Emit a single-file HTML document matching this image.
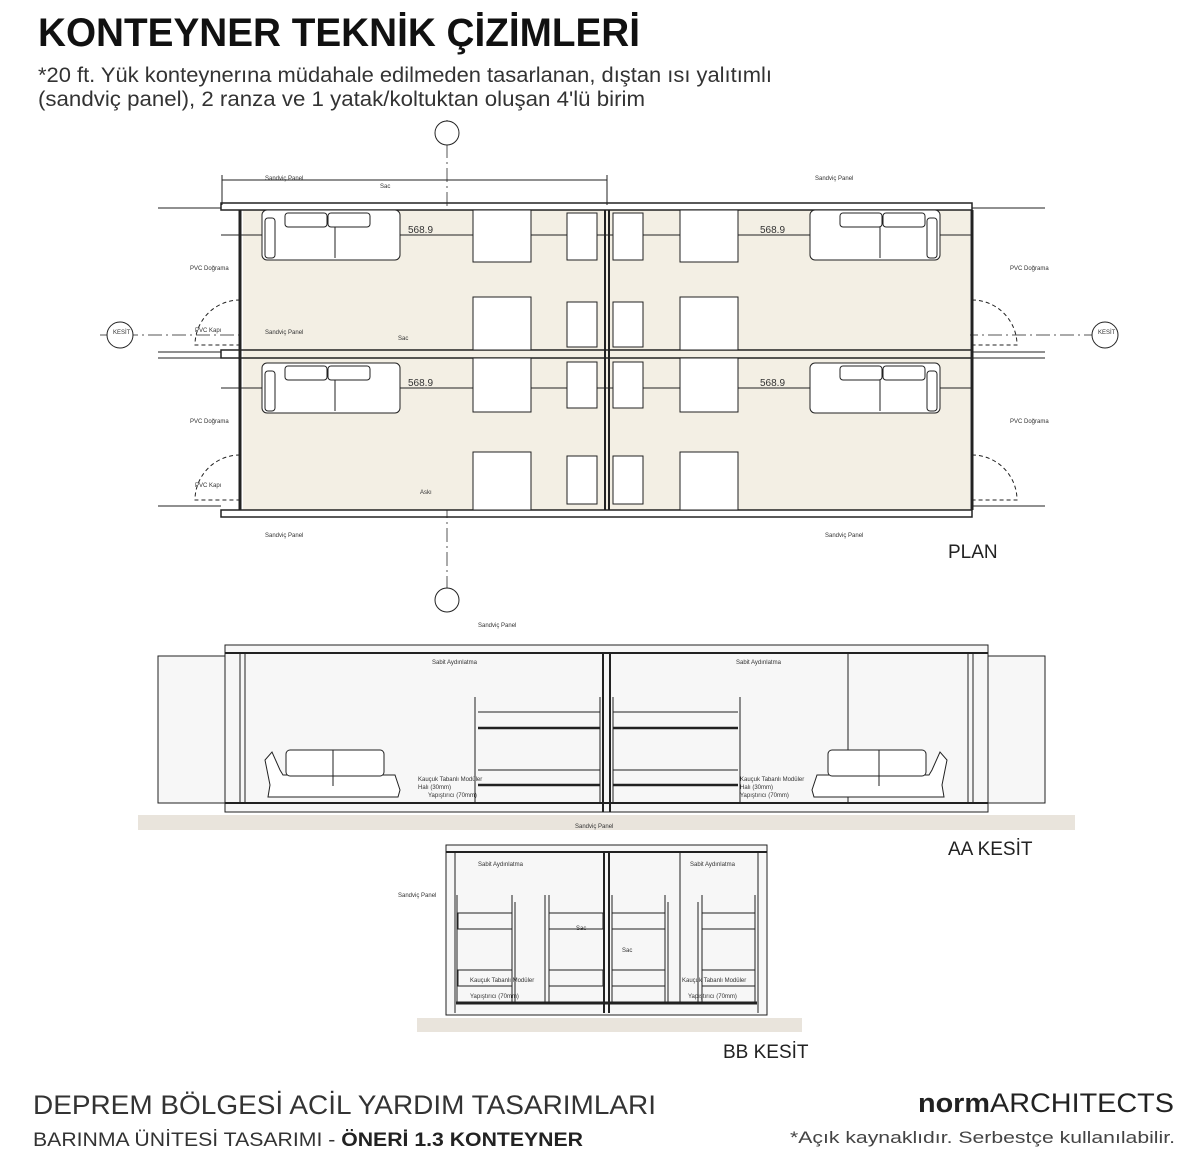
<!DOCTYPE html>
<html><head><meta charset="utf-8"><style>
html,body{margin:0;padding:0;background:#fff}
svg{display:block}
text{font-family:"Liberation Sans",sans-serif}
</style></head><body>
<svg width="1200" height="1158" viewBox="0 0 1200 1158" xmlns="http://www.w3.org/2000/svg">
<rect width="1200" height="1158" fill="#fff"/>
<!-- Header -->
<text x="38" y="46" font-size="40" font-weight="bold" textLength="602" lengthAdjust="spacingAndGlyphs" fill="#111">KONTEYNER TEKNİK ÇİZİMLERİ</text>
<text x="38" y="82" font-size="21" textLength="734" lengthAdjust="spacingAndGlyphs" fill="#333">*20 ft. Yük konteynerına müdahale edilmeden tasarlanan, dıştan ısı yalıtımlı</text>
<text x="38" y="106" font-size="21" textLength="607" lengthAdjust="spacingAndGlyphs" fill="#333">(sandviç panel), 2 ranza ve 1 yatak/koltuktan oluşan 4'lü birim</text>

<!-- PLAN -->
<g stroke="#222" fill="none" stroke-width="1">
  <line x1="100" y1="335" x2="1100" y2="335" stroke-dasharray="14 4 2 4" stroke="#555"/>
  <line x1="447" y1="120" x2="447" y2="590" stroke-dasharray="14 4 2 4" stroke="#555"/>
  <line x1="222" y1="180" x2="607" y2="180"/>
  <line x1="222" y1="175" x2="222" y2="205"/>
  <line x1="607" y1="175" x2="607" y2="205"/>
  <rect x="243" y="210" width="727" height="300" fill="#f3efe4" stroke="none"/>
  <rect x="221" y="203" width="751" height="7" stroke-width="1.5"/>
  <rect x="221" y="510" width="751" height="7" stroke-width="1.5"/>
  <rect x="221" y="350" width="751" height="8" stroke-width="1.5"/>
  <line x1="240" y1="210" x2="240" y2="510" stroke-width="3"/>
  <line x1="972" y1="210" x2="972" y2="510" stroke-width="3"/>
  <line x1="605" y1="210" x2="605" y2="510" stroke-width="2"/>
  <line x1="609" y1="210" x2="609" y2="510" stroke-width="2"/>
  <line x1="158" y1="208" x2="221" y2="208"/><line x1="158" y1="352" x2="221" y2="352"/>
  <line x1="158" y1="358" x2="221" y2="358"/><line x1="158" y1="506" x2="221" y2="506"/>
  <line x1="1045" y1="208" x2="972" y2="208"/><line x1="1045" y1="352" x2="972" y2="352"/>
  <line x1="1045" y1="358" x2="972" y2="358"/><line x1="1045" y1="506" x2="972" y2="506"/>
  <path d="M240 300 A45 45 0 0 0 195 345 L240 345" stroke-dasharray="4 3"/>
  <path d="M240 455 A45 45 0 0 0 195 500 L240 500" stroke-dasharray="4 3"/>
  <path d="M972 300 A45 45 0 0 1 1017 345 L972 345" stroke-dasharray="4 3"/>
  <path d="M972 455 A45 45 0 0 1 1017 500 L972 500" stroke-dasharray="4 3"/>
  <line x1="221" y1="235" x2="972" y2="235"/>
  <line x1="221" y1="388" x2="972" y2="388"/>
  <g fill="#fff">
    <rect x="262" y="210" width="138" height="50" rx="5"/>
    <rect x="262" y="363" width="138" height="50" rx="5"/>
    <rect x="810" y="210" width="130" height="50" rx="5"/>
    <rect x="810" y="363" width="130" height="50" rx="5"/>
    <rect x="285" y="213" width="42" height="14" rx="3"/><rect x="328" y="213" width="42" height="14" rx="3"/>
    <rect x="285" y="366" width="42" height="14" rx="3"/><rect x="328" y="366" width="42" height="14" rx="3"/>
    <rect x="840" y="213" width="42" height="14" rx="3"/><rect x="883" y="213" width="42" height="14" rx="3"/>
    <rect x="840" y="366" width="42" height="14" rx="3"/><rect x="883" y="366" width="42" height="14" rx="3"/>
    <rect x="265" y="218" width="10" height="40" rx="3"/><rect x="265" y="371" width="10" height="40" rx="3"/>
    <rect x="927" y="218" width="10" height="40" rx="3"/><rect x="927" y="371" width="10" height="40" rx="3"/>
    <rect x="473" y="210" width="58" height="52"/><rect x="567" y="213" width="30" height="47"/>
    <rect x="473" y="297" width="58" height="53"/><rect x="567" y="302" width="30" height="45"/>
    <rect x="473" y="358" width="58" height="54"/><rect x="567" y="362" width="30" height="46"/>
    <rect x="473" y="452" width="58" height="58"/><rect x="567" y="456" width="30" height="48"/>
    <rect x="680" y="210" width="58" height="52"/><rect x="613" y="213" width="30" height="47"/>
    <rect x="680" y="297" width="58" height="53"/><rect x="613" y="302" width="30" height="45"/>
    <rect x="680" y="358" width="58" height="54"/><rect x="613" y="362" width="30" height="46"/>
    <rect x="680" y="452" width="58" height="58"/><rect x="613" y="456" width="30" height="48"/>
  </g>
  <line x1="335" y1="227" x2="335" y2="258"/><line x1="335" y1="380" x2="335" y2="411"/>
  <line x1="880" y1="227" x2="880" y2="258"/><line x1="880" y1="380" x2="880" y2="411"/>
  <circle cx="120" cy="335" r="13" fill="#fff"/><circle cx="1105" cy="335" r="13" fill="#fff"/>
  <circle cx="447" cy="133" r="12" fill="#fff"/><circle cx="447" cy="600" r="12" fill="#fff"/>
</g>
<g font-size="6" fill="#333">
  <text x="265" y="180">Sandviç Panel</text><text x="380" y="188">Sac</text>
  <text x="190" y="270">PVC Doğrama</text><text x="195" y="332">PVC Kapı</text>
  <text x="265" y="334">Sandviç Panel</text><text x="398" y="340">Sac</text>
  <text x="190" y="423">PVC Doğrama</text><text x="195" y="487">PVC Kapı</text>
  <text x="420" y="494">Askı</text><text x="265" y="537">Sandviç Panel</text>
  <text x="815" y="180">Sandviç Panel</text><text x="1010" y="270">PVC Doğrama</text>
  <text x="1010" y="423">PVC Doğrama</text><text x="825" y="537">Sandviç Panel</text>
  <text x="113" y="334">KESİT</text><text x="1098" y="334">KESİT</text>
</g>
<g font-size="10" fill="#333">
  <text x="408" y="233">568.9</text><text x="408" y="386">568.9</text>
  <text x="760" y="233">568.9</text><text x="760" y="386">568.9</text>
</g>
<text x="948" y="558" font-size="19" fill="#222">PLAN</text>

<!-- AA KESIT -->
<rect x="138" y="815" width="937" height="15" fill="#e9e4dc"/>
<g stroke="#222" fill="none" stroke-width="1">
  <rect x="225" y="645" width="763" height="167" fill="#f7f7f7"/>
  <rect x="158" y="656" width="67" height="147" fill="#f7f7f7"/>
  <rect x="988" y="656" width="57" height="147" fill="#f7f7f7"/>
  <line x1="225" y1="653" x2="988" y2="653" stroke-width="2"/>
  <line x1="225" y1="803" x2="988" y2="803" stroke-width="2"/>
  <line x1="240" y1="653" x2="240" y2="803"/><line x1="245" y1="653" x2="245" y2="803"/>
  <line x1="968" y1="653" x2="968" y2="803"/><line x1="973" y1="653" x2="973" y2="803"/>
  <line x1="603" y1="653" x2="603" y2="812" stroke-width="2"/><line x1="610" y1="653" x2="610" y2="812" stroke-width="2"/>
  <line x1="848" y1="653" x2="848" y2="803"/>
  <line x1="475" y1="697" x2="475" y2="803"/><line x1="600" y1="697" x2="600" y2="803"/>
  <line x1="478" y1="728" x2="600" y2="728" stroke-width="2.5"/><line x1="478" y1="785" x2="600" y2="785" stroke-width="2.5"/>
  <line x1="478" y1="712" x2="600" y2="712"/><line x1="478" y1="770" x2="600" y2="770"/>
  <line x1="613" y1="697" x2="613" y2="803"/><line x1="740" y1="697" x2="740" y2="803"/>
  <line x1="613" y1="728" x2="738" y2="728" stroke-width="2.5"/><line x1="613" y1="785" x2="738" y2="785" stroke-width="2.5"/>
  <line x1="613" y1="712" x2="738" y2="712"/><line x1="613" y1="770" x2="738" y2="770"/>
  <path d="M270 785 L265 760 L272 752 L280 770 L283 775 L395 775 L400 790 L398 797 L268 797 Z" fill="#fff"/>
  <rect x="286" y="750" width="98" height="26" rx="4" fill="#fff"/><line x1="333" y1="750" x2="333" y2="786"/>
  <path d="M942 785 L947 760 L940 752 L932 770 L929 775 L817 775 L812 790 L814 797 L944 797 Z" fill="#fff"/>
  <rect x="828" y="750" width="98" height="26" rx="4" fill="#fff"/><line x1="879" y1="750" x2="879" y2="786"/>
</g>
<g font-size="6" fill="#333">
  <text x="478" y="627">Sandviç Panel</text><text x="432" y="664">Sabit Aydınlatma</text>
  <text x="736" y="664">Sabit Aydınlatma</text>
  <text x="418" y="781">Kauçuk Tabanlı Modüler</text><text x="418" y="789">Halı (30mm)</text><text x="428" y="797">Yapıştırıcı (70mm)</text>
  <text x="740" y="781">Kauçuk Tabanlı Modüler</text><text x="740" y="789">Halı (30mm)</text><text x="740" y="797">Yapıştırıcı (70mm)</text>
  <text x="575" y="828">Sandviç Panel</text>
</g>
<text x="948" y="855" font-size="19" fill="#222">AA KESİT</text>

<!-- BB KESIT -->
<rect x="417" y="1018" width="385" height="14" fill="#e9e4dc"/>
<g stroke="#222" fill="none" stroke-width="1">
  <rect x="446" y="845" width="321" height="170" fill="#f7f7f7"/>
  <line x1="446" y1="852" x2="767" y2="852" stroke-width="2"/>
  <line x1="455" y1="852" x2="455" y2="1013"/><line x1="758" y1="852" x2="758" y2="1013"/>
  <line x1="456" y1="1003" x2="757" y2="1003" stroke-width="3"/>
  <line x1="604" y1="852" x2="604" y2="1013" stroke-width="2"/><line x1="609" y1="852" x2="609" y2="1013" stroke-width="2"/>
  <line x1="680" y1="853" x2="680" y2="1003"/>
  <g>
    <line x1="457" y1="895" x2="457" y2="1003"/><line x1="512" y1="895" x2="512" y2="1003"/><line x1="515" y1="902" x2="515" y2="1003"/>
    <rect x="458" y="913" width="54" height="16"/><rect x="458" y="970" width="54" height="16"/>
    <line x1="545" y1="895" x2="545" y2="1003"/><line x1="549" y1="895" x2="549" y2="1003"/>
    <rect x="549" y="913" width="54" height="16"/><rect x="549" y="970" width="54" height="16"/>
    <line x1="612" y1="895" x2="612" y2="1003"/><line x1="665" y1="895" x2="665" y2="1003"/><line x1="668" y1="902" x2="668" y2="1003"/>
    <rect x="612" y="913" width="53" height="16"/><rect x="612" y="970" width="53" height="16"/>
    <line x1="698" y1="902" x2="698" y2="1003"/><line x1="702" y1="895" x2="702" y2="1003"/><line x1="755" y1="895" x2="755" y2="1003"/>
    <rect x="702" y="913" width="53" height="16"/><rect x="702" y="970" width="53" height="16"/>
  </g>
</g>
<g font-size="6" fill="#333">
  <text x="478" y="866">Sabit Aydınlatma</text><text x="690" y="866">Sabit Aydınlatma</text>
  <text x="398" y="897">Sandviç Panel</text><text x="576" y="930">Sac</text><text x="622" y="952">Sac</text>
  <text x="470" y="982">Kauçuk Tabanlı Modüler</text><text x="470" y="998">Yapıştırıcı (70mm)</text>
  <text x="682" y="982">Kauçuk Tabanlı Modüler</text><text x="688" y="998">Yapıştırıcı (70mm)</text>
</g>
<text x="723" y="1058" font-size="19" fill="#222">BB KESİT</text>

<!-- Footer -->
<text x="33" y="1114" font-size="27" textLength="623" lengthAdjust="spacingAndGlyphs" fill="#333">DEPREM BÖLGESİ ACİL YARDIM TASARIMLARI</text>
<text x="33" y="1146" font-size="19" textLength="550" lengthAdjust="spacingAndGlyphs" fill="#333">BARINMA ÜNİTESİ TASARIMI - <tspan font-weight="bold" fill="#222">ÖNERİ 1.3 KONTEYNER</tspan></text>
<text x="918" y="1112" font-size="27" textLength="256" lengthAdjust="spacingAndGlyphs" fill="#222"><tspan font-weight="bold">norm</tspan>ARCHITECTS</text>
<text x="790" y="1143" font-size="17" textLength="385" lengthAdjust="spacingAndGlyphs" fill="#444">*Açık kaynaklıdır. Serbestçe kullanılabilir.</text>
</svg>
</body></html>
